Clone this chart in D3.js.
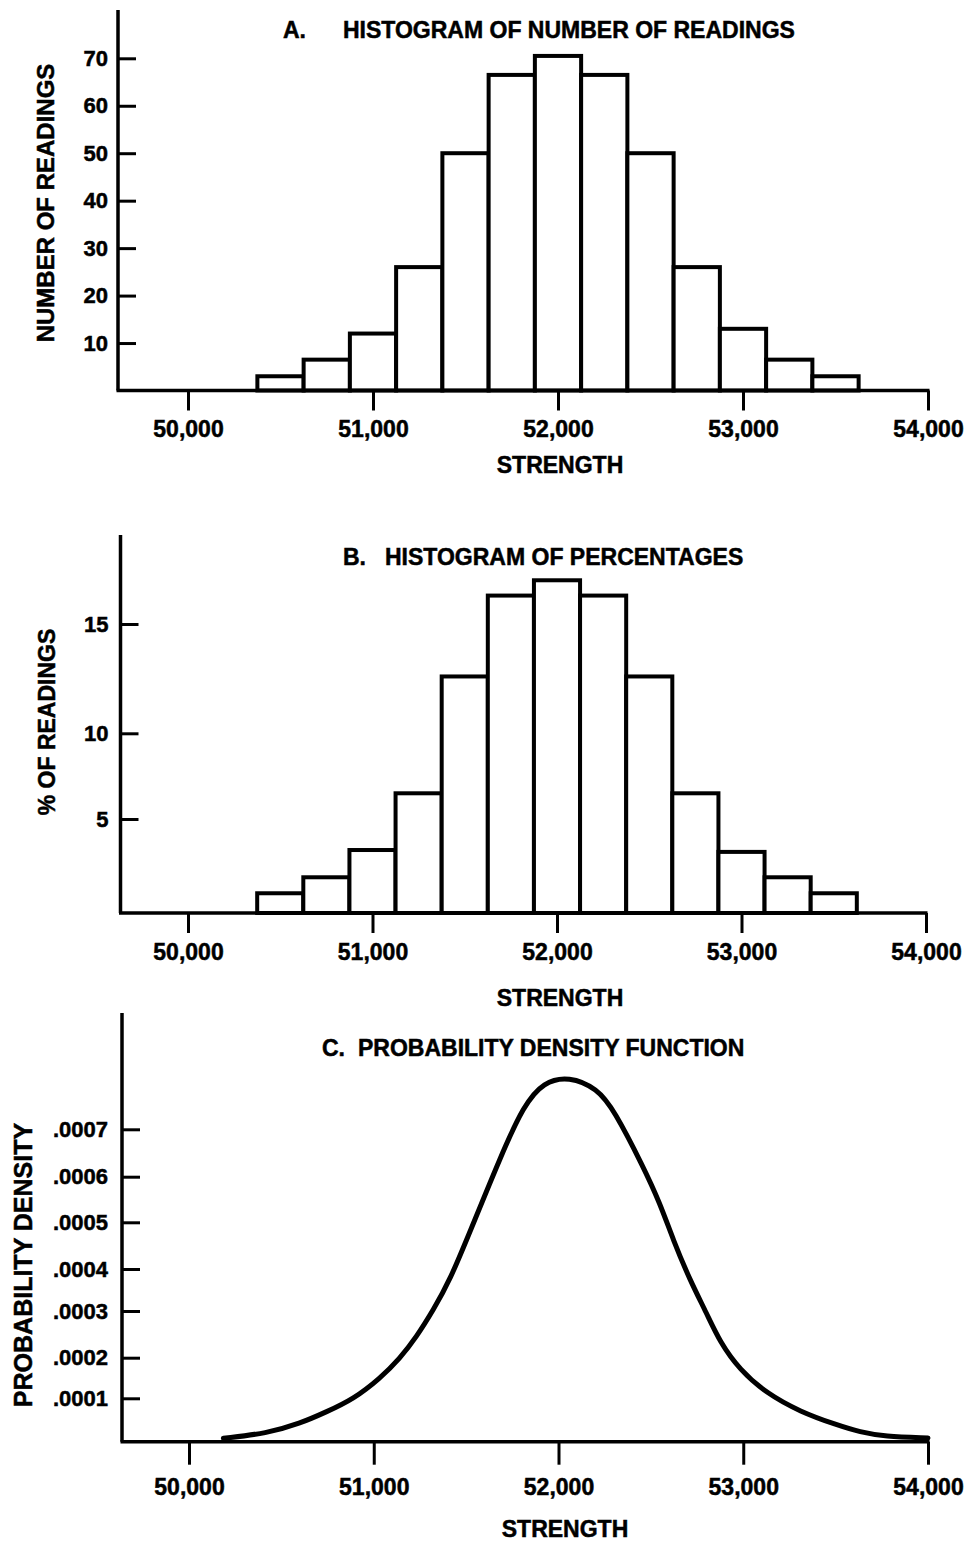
<!DOCTYPE html>
<html>
<head>
<meta charset="utf-8">
<script src="https://cdn.jsdelivr.net/npm/d3@7"></script>
<style>
    html, body { margin: 0; padding: 0; background: #fff; }
    svg { display: block; }
    text { font-family: "Liberation Sans", Arial, sans-serif; font-weight: bold; fill: #000;
        stroke: #000; stroke-width: 0.5px; }
</style>
</head>
<body>
<div id="chart"></div>
<script>
// strength axis
const strengthTicks = [50000, 51000, 52000, 53000, 54000];
const binStarts = [50375, 50625, 50875, 51125, 51375, 51625, 51875, 52125, 52375, 52625, 52875, 53125, 53375];
const binWidth = 250;

// A. number of readings per bin
const readingCounts = [3, 6.5, 12, 26, 50, 66.5, 70.5, 66.5, 50, 26, 13, 6.5, 3];
const countTicks = [10, 20, 30, 40, 50, 60, 70];

// B. percent of readings per bin
const readingPercents = [1.05, 1.9, 3.35, 6.5, 12.6, 16.3, 17.0, 16.3, 12.6, 6.5, 3.25, 1.9, 1.05];
const percentTicks = [5, 10, 15];

// C. probability density curve
const pdfStrength = [50186, 50421, 50601, 50745, 50889, 51034, 51142, 51232, 51322, 51413, 51521, 51686,
    51812, 51920, 52056, 52210, 52300, 52459, 52549, 52621, 52711, 52802, 52873, 52981, 53127, 53308,
    53506, 53633, 53763, 54000];
const pdfDensity = [0.000008, 0.000019, 0.000042, 0.000069, 0.000098, 0.000149, 0.0001985, 0.000245,
    0.000302, 0.000374, 0.000480, 0.000642, 0.000751, 0.000800, 0.000812, 0.000786, 0.000741, 0.000621,
    0.000542, 0.000462, 0.000374, 0.000295, 0.000234, 0.000170, 0.000112, 0.000069, 0.0000385, 0.000022,
    0.000012, 0.0000085];
const densityTicks = [0.0001, 0.0002, 0.0003, 0.0004, 0.0005, 0.0006, 0.0007];

const width = 968, height = 1544;
const fmtStrength = d3.format(",");

const svg = d3.select("#chart").append("svg")
    .attr("width", width)
    .attr("height", height)
    .attr("viewBox", [0, 0, width, height]);

function drawAxes(p) {
    const g = svg.append("g");
    // axis lines
    g.append("line")
        .attr("x1", p.axisX).attr("x2", p.axisX)
        .attr("y1", p.top).attr("y2", p.baseY)
        .attr("stroke", "#000").attr("stroke-width", 3.5);
    g.append("line")
        .attr("x1", p.axisX - 1.5).attr("x2", p.x(54000) + 1.5)
        .attr("y1", p.baseY).attr("y2", p.baseY)
        .attr("stroke", "#000").attr("stroke-width", 3.5);

    g.append("g")
        .attr("transform", `translate(0,${p.baseY})`)
        .call(d3.axisBottom(p.x).tickValues(strengthTicks).tickFormat(fmtStrength)
            .tickSizeInner(p.xTickLen).tickSizeOuter(0).tickPadding(p.xPad))
        .call(a => a.select(".domain").remove())
        .call(a => a.selectAll(".tick line").attr("stroke-width", 3))
        .call(a => a.selectAll(".tick text").attr("font-size", 23).attr("font-family", null));

    g.append("g")
        .attr("transform", `translate(${p.axisX},0)`)
        .call(d3.axisLeft(p.y).tickValues(p.yTicks).tickFormat(p.yFormat)
            .tickSizeInner(-18).tickSizeOuter(0).tickPadding(p.yPad))
        .call(a => a.select(".domain").remove())
        .call(a => a.selectAll(".tick line").attr("stroke-width", 3))
        .call(a => a.selectAll(".tick text").attr("font-size", p.yFont).attr("font-family", null));

    // axis titles
    g.append("text")
        .attr("x", p.xLabelX).attr("y", p.xLabelY)
        .attr("text-anchor", "middle").attr("font-size", 23)
        .text("STRENGTH");
    g.append("text")
        .attr("transform", `translate(${p.yLabelX},${p.yLabelY}) rotate(-90)`)
        .attr("text-anchor", "middle").attr("font-size", p.yLabelFont)
        .text(p.yLabel);

    // panel title
    g.append("text")
        .attr("x", p.letterX).attr("y", p.titleY).attr("font-size", 23)
        .text(p.letter);
    g.append("text")
        .attr("x", p.titleX).attr("y", p.titleY).attr("font-size", 23)
        .text(p.title);
}

function drawBars(p, values) {
    svg.append("g")
        .selectAll("rect")
        .data(values)
        .join("rect")
        .attr("x", (d, i) => p.x(binStarts[i]))
        .attr("width", (d, i) => p.x(binStarts[i] + binWidth) - p.x(binStarts[i]))
        .attr("y", d => p.y(d))
        .attr("height", d => p.baseY - p.y(d))
        .attr("fill", "#fff")
        .attr("stroke", "#000")
        .attr("stroke-width", 4);
}

// ---- A ----
const panelA = {
    x: d3.scaleLinear([50000, 54000], [188, 928]),
    y: d3.scaleLinear([0, 70], [390.5, 58.3]),
    axisX: 118, top: 10, baseY: 390.5,
    xTickLen: 20, xPad: 10, yTicks: countTicks, yFormat: d3.format("d"), yPad: 10, yFont: 22,
    xLabelX: 560, xLabelY: 473,
    yLabel: "NUMBER OF READINGS", yLabelX: 54, yLabelY: 203, yLabelFont: 24,
    letter: "A.", letterX: 283, title: "HISTOGRAM OF NUMBER OF READINGS", titleX: 343, titleY: 38
};
drawBars(panelA, readingCounts);
drawAxes(panelA);

// ---- B ----
const panelB = {
    x: d3.scaleLinear([50000, 54000], [188, 926]),
    y: d3.scaleLinear([0, 5, 10, 15], [913, 819, 733.3, 624]),
    axisX: 120.5, top: 535, baseY: 913,
    xTickLen: 20, xPad: 10.5, yTicks: percentTicks, yFormat: d3.format("d"), yPad: 12, yFont: 22,
    xLabelX: 560, xLabelY: 1006,
    yLabel: "% OF READINGS", yLabelX: 55, yLabelY: 722, yLabelFont: 23,
    letter: "B.", letterX: 343, title: "HISTOGRAM OF PERCENTAGES", titleX: 385, titleY: 565
};
drawBars(panelB, readingPercents);
drawAxes(panelB);

// ---- C ----
const panelC = {
    x: d3.scaleLinear([50000, 54000], [189, 928]),
    y: d3.scaleLinear([0, 0.0001, 0.0002, 0.0003, 0.0004, 0.0005, 0.0006, 0.0007],
        [1441.7, 1398.3, 1357.7, 1311, 1269, 1222.3, 1176.7, 1129.3]),
    axisX: 122, top: 1013, baseY: 1441.7,
    xTickLen: 23, xPad: 14, yTicks: densityTicks, yFormat: d => d.toFixed(4).replace(/^0/, ""), yPad: 14, yFont: 22,
    xLabelX: 565, xLabelY: 1537,
    yLabel: "PROBABILITY DENSITY", yLabelX: 32, yLabelY: 1265, yLabelFont: 25,
    letter: "C.", letterX: 322, title: "PROBABILITY DENSITY FUNCTION", titleX: 358, titleY: 1056
};
drawAxes(panelC);

const pdfLine = d3.line()
    .x(d => panelC.x(d[0]))
    .y(d => panelC.y(d[1]))
    .curve(d3.curveBasis);

svg.append("path")
    .datum(d3.zip(pdfStrength, pdfDensity))
    .attr("d", pdfLine)
    .attr("fill", "none")
    .attr("stroke", "#000")
    .attr("stroke-width", 5)
    .attr("stroke-linecap", "round");
</script>
</body>
</html>
